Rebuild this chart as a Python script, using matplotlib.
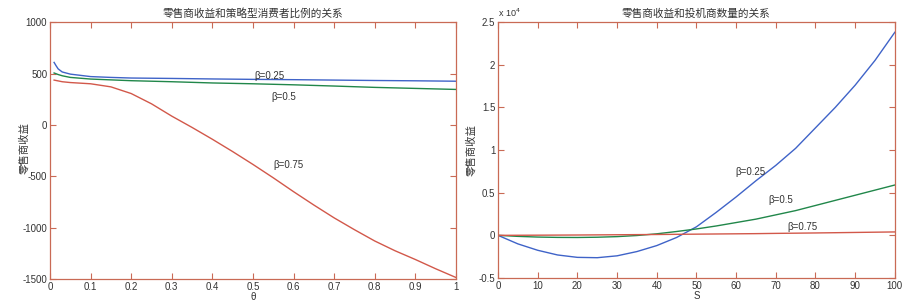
import matplotlib
matplotlib.use("Agg")
import matplotlib.pyplot as plt
from matplotlib.ticker import FuncFormatter

plt.rcParams['font.family'] = ['Liberation Sans', 'Noto Sans CJK SC', 'DejaVu Sans']
plt.rcParams['axes.unicode_minus'] = False
CJK = ['Noto Sans CJK SC', 'DejaVu Sans']

# Left chart: retailer profit vs. proportion of strategic consumers (theta)
theta_b25 = [0.01, 0.015, 0.02, 0.03, 0.05, 0.1, 0.15, 0.2, 0.3, 0.4, 0.5, 0.6, 0.7, 0.8, 0.9, 1.0]
profit_b25 = [608, 575, 545, 515, 494, 470, 462, 456, 452, 447, 443, 440, 436, 432, 429, 425]
theta_b50 = [0.01, 0.02, 0.03, 0.05, 0.1, 0.15, 0.2, 0.3, 0.4, 0.5, 0.6, 0.7, 0.8, 0.9, 1.0]
profit_b50 = [505, 490, 478, 462, 446, 438, 430, 420, 408, 400, 390, 378, 365, 355, 345]
theta_b75 = [0.01, 0.02, 0.03, 0.05, 0.1, 0.15, 0.2, 0.25, 0.3, 0.35, 0.4, 0.45, 0.5,
             0.55, 0.6, 0.65, 0.7, 0.75, 0.8, 0.85, 0.9, 0.95, 1.0]
profit_b75 = [436, 428, 420, 412, 400, 370, 305, 205, 85, -25, -140, -260, -385,
              -515, -650, -780, -905, -1020, -1130, -1225, -1310, -1400, -1485]

# Right chart: retailer profit vs. number of speculators (S)
S_vals = [0, 5, 10, 15, 20, 25, 30, 35, 40, 45, 50, 55, 60, 65, 70, 75, 80, 85, 90, 95, 100]
rev_b25 = [0, -1000, -1750, -2300, -2580, -2620, -2400, -1900, -1200, -250, 1000, 2700,
           4500, 6400, 8200, 10200, 12600, 15000, 17600, 20500, 23800]
rev_b50 = [0, -120, -200, -240, -250, -220, -150, -20, 180, 450, 750, 1100, 1500, 1900,
           2400, 2900, 3500, 4100, 4700, 5300, 5900]
rev_b75 = [0, 10, 20, 30, 40, 55, 70, 85, 100, 120, 140, 160, 180, 200, 230, 255, 280,
           310, 340, 370, 400]

left_yticks = [-1500, -1000, -500, 0, 500, 1000]
left_xticks = [0, 0.1, 0.2, 0.3, 0.4, 0.5, 0.6, 0.7, 0.8, 0.9, 1]
left_xticklabels = ['0', '0.1', '0.2', '0.3', '0.4', '0.5', '0.6', '0.7', '0.8', '0.9', '1']
right_yticks = [-5000, 0, 5000, 10000, 15000, 20000, 25000]
right_xticks = [0, 10, 20, 30, 40, 50, 60, 70, 80, 90, 100]

BLUE = '#3f63c8'
GREEN = '#21874a'
RED = '#d2584a'
SPINE = '#c96a55'
TXT = '#333333'

fig = plt.figure(figsize=(9.08, 3.04), dpi=100)
ax1 = fig.add_axes([0.0551, 0.0822, 0.447, 0.845])
ax2 = fig.add_axes([0.5485, 0.0855, 0.437, 0.842])


def style(ax):
    for sp in ax.spines.values():
        sp.set_color(SPINE)
        sp.set_linewidth(0.9)
    ax.tick_params(direction='in', length=4, width=0.8, color=SPINE,
                   labelsize=7, labelcolor=TXT, top=True, right=True, pad=2)


ax1.plot(theta_b25, profit_b25, color=BLUE, lw=1)
ax1.plot(theta_b50, profit_b50, color=GREEN, lw=1)
ax1.plot(theta_b75, profit_b75, color=RED, lw=1)
ax1.set_xlim(0, 1)
ax1.set_ylim(-1500, 1000)
ax1.set_xticks(left_xticks)
ax1.set_xticklabels(left_xticklabels)
ax1.set_yticks(left_yticks)
style(ax1)
ax1.set_title('零售商收益和策略型消费者比例的关系', fontsize=7.7, color=TXT, pad=4, family=CJK)
ax1.set_xlabel('θ', fontsize=7, color=TXT, labelpad=0)
ax1.set_ylabel('零售商收益', fontsize=7.5, color=TXT, family=CJK)
ax1.yaxis.set_label_coords(-0.052, 0.51)
ax1.text(0.54, 475, 'β=0.25', fontsize=7, color=TXT, ha='center', va='center')
ax1.text(0.576, 273, 'β=0.5', fontsize=7, color=TXT, ha='center', va='center')
ax1.text(0.587, -391, 'β=0.75', fontsize=7, color=TXT, ha='center', va='center')

ax2.plot(S_vals, rev_b25, color=BLUE, lw=1)
ax2.plot(S_vals, rev_b50, color=GREEN, lw=1)
ax2.plot(S_vals, rev_b75, color=RED, lw=1)
ax2.set_xlim(0, 100)
ax2.set_ylim(-5000, 25000)
ax2.set_xticks(right_xticks)
ax2.set_yticks(right_yticks)
ax2.yaxis.set_major_formatter(FuncFormatter(lambda v, p: f'{v / 1e4:g}'))
style(ax2)
ax2.set_title('零售商收益和投机商数量的关系', fontsize=7.7, color=TXT, pad=4, family=CJK)
ax2.set_xlabel('S', fontsize=7, color=TXT, labelpad=0)
ax2.set_ylabel('零售商收益', fontsize=7.5, color=TXT, family=CJK)
ax2.yaxis.set_label_coords(-0.055, 0.5)
ax2.text(0.0, 1.01, r'x 10$^4$', transform=ax2.transAxes, fontsize=6.5, color=TXT,
         ha='left', va='bottom')
ax2.text(63.7, 7450, 'β=0.25', fontsize=7, color=TXT, ha='center', va='center')
ax2.text(71.3, 4100, 'β=0.5', fontsize=7, color=TXT, ha='center', va='center')
ax2.text(76.6, 1000, 'β=0.75', fontsize=7, color=TXT, ha='center', va='center')

fig.savefig('out.png', dpi=100)
